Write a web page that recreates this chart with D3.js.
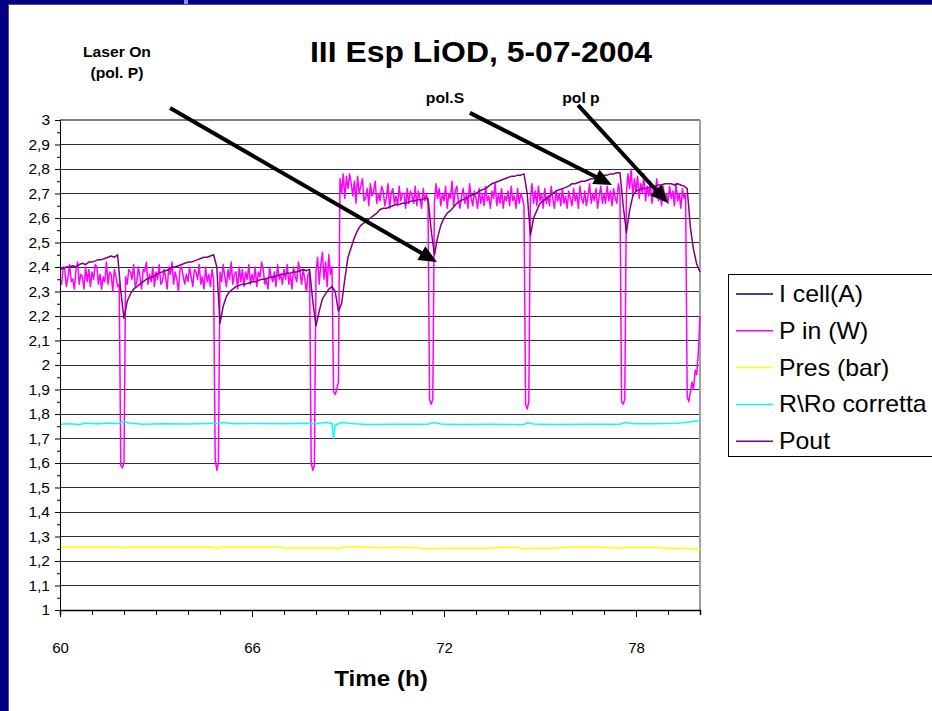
<!DOCTYPE html>
<html><head><meta charset="utf-8">
<script src="https://cdn.jsdelivr.net/npm/d3@7"></script>
<style>html,body{margin:0;padding:0;background:#000080;overflow:hidden} svg{display:block}</style>
</head><body>
<svg id="c" width="932" height="711"></svg>
<script>
// ---------------- DATA ----------------
const T_START = 60;
const STEP_PIN = 0.05;   // h between P in samples
const STEP_POUT = 0.1;   // h between Pout samples

const pIn = [
2.35,2.33,2.40,2.39,2.32,2.36,2.41,2.34,2.35,2.31,2.39,2.42,2.33,2.37,2.36,2.31,2.40,2.34,2.39,2.32,
2.38,2.35,2.41,2.40,2.33,2.37,2.31,2.36,2.34,2.42,2.33,2.38,2.37,2.30,2.39,2.36,2.32,2.33,1.59,1.58,
1.60,2.36,2.33,2.39,2.38,2.35,2.41,2.32,2.34,2.40,2.36,2.31,2.39,2.38,2.42,2.33,2.37,2.34,2.40,2.32,
2.38,2.35,2.41,2.33,2.34,2.39,2.36,2.31,2.40,2.37,2.42,2.33,2.38,2.35,2.30,2.39,2.40,2.36,2.33,2.37,
2.34,2.40,2.36,2.32,2.39,2.38,2.35,2.41,2.33,2.36,2.31,2.40,2.34,2.37,2.32,2.39,2.35,1.62,1.57,1.60,
2.38,2.34,2.41,2.36,2.32,2.39,2.35,2.42,2.33,2.37,2.38,2.31,2.40,2.34,2.39,2.32,2.38,2.35,2.41,2.33,
2.37,2.34,2.40,2.32,2.38,2.36,2.42,2.39,2.33,2.35,2.31,2.40,2.36,2.34,2.38,2.32,2.41,2.35,2.37,2.33,
2.39,2.35,2.41,2.33,2.37,2.31,2.40,2.36,2.34,2.42,2.38,2.33,2.39,2.35,2.30,2.37,2.38,1.60,1.57,1.59,
2.38,2.44,2.33,2.41,2.46,2.35,2.42,2.32,2.45,2.37,2.40,1.89,1.88,1.90,1.93,2.76,2.70,2.78,2.68,2.77,
2.72,2.78,2.74,2.69,2.75,2.66,2.77,2.70,2.73,2.76,2.67,2.68,2.72,2.65,2.74,2.69,2.71,2.75,2.66,2.70,
2.67,2.73,2.71,2.65,2.68,2.74,2.64,2.70,2.72,2.66,2.69,2.65,2.73,2.67,2.70,2.70,2.64,2.72,2.66,2.71,
2.69,2.66,2.73,2.65,2.71,2.68,2.64,2.72,2.67,2.70,2.66,1.86,1.84,1.86,2.66,2.74,2.68,2.72,2.65,2.70,
2.67,2.73,2.64,2.70,2.68,2.75,2.65,2.71,2.73,2.67,2.64,2.69,2.72,2.66,2.70,2.64,2.74,2.68,2.65,2.71,
2.68,2.64,2.72,2.66,2.70,2.65,2.73,2.67,2.69,2.64,2.71,2.68,2.74,2.65,2.70,2.66,2.72,2.64,2.69,2.67,
2.71,2.65,2.73,2.67,2.69,2.64,2.72,2.66,2.70,2.68,2.65,1.84,1.82,1.85,2.68,2.74,2.66,2.71,2.65,2.73,
2.67,2.70,2.64,2.72,2.66,2.69,2.65,2.73,2.68,2.64,2.71,2.67,2.70,2.65,2.72,2.66,2.69,2.64,2.71,2.68,
2.65,2.72,2.67,2.70,2.64,2.73,2.68,2.66,2.71,2.65,2.69,2.74,2.66,2.70,2.67,2.72,2.64,2.69,2.73,2.66,
2.70,2.66,2.73,2.67,2.71,2.65,2.72,2.68,2.66,2.74,2.70,1.85,1.84,1.86,2.70,2.78,2.72,2.80,2.69,2.76,
2.71,2.77,2.68,2.74,2.70,2.78,2.67,2.73,2.69,2.75,2.66,2.72,2.70,2.76,2.67,2.71,2.65,2.73,2.68,2.70,
2.66,2.73,2.68,2.71,2.65,2.74,2.67,2.70,2.64,2.72,2.68,2.70,1.87,1.85,1.89,1.93,1.90,1.98,1.96,2.06,
2.20
];

const pOut = [
2.39,2.395,2.40,2.40,2.405,2.40,2.41,2.415,2.41,2.42,
2.42,2.425,2.43,2.43,2.435,2.44,2.445,2.44,2.45,2.30,
2.19,2.26,2.29,2.31,2.32,2.33,2.34,2.35,2.355,2.36,
2.37,2.375,2.38,2.385,2.39,2.40,2.40,2.405,2.41,2.415,
2.42,2.42,2.425,2.43,2.435,2.44,2.44,2.445,2.45,2.40,
2.17,2.24,2.28,2.30,2.31,2.32,2.325,2.33,2.33,2.335,
2.34,2.34,2.345,2.35,2.35,2.355,2.36,2.36,2.365,2.37,
2.37,2.375,2.375,2.38,2.38,2.385,2.39,2.385,2.39,2.26,
2.16,2.22,2.27,2.29,2.31,2.32,2.30,2.22,2.25,2.35,
2.44,2.48,2.52,2.55,2.57,2.58,2.59,2.60,2.61,2.62,
2.635,2.64,2.64,2.645,2.65,2.655,2.655,2.66,2.66,2.665,
2.67,2.67,2.675,2.675,2.68,2.68,2.55,2.45,2.52,2.57,
2.60,2.62,2.63,2.645,2.66,2.67,2.675,2.68,2.69,2.695,
2.70,2.71,2.715,2.72,2.73,2.74,2.745,2.75,2.755,2.76,
2.765,2.77,2.77,2.775,2.775,2.78,2.70,2.53,2.60,2.63,
2.66,2.67,2.68,2.69,2.70,2.71,2.715,2.72,2.725,2.73,
2.74,2.74,2.745,2.75,2.75,2.755,2.76,2.76,2.765,2.77,
2.775,2.775,2.78,2.78,2.785,2.785,2.65,2.54,2.63,2.69,
2.71,2.715,2.72,2.72,2.725,2.73,2.73,2.735,2.735,2.74,
2.74,2.74,2.735,2.74,2.735,2.73,2.72,2.56,2.47,2.41,
2.38
];

// I cell(A): its values lie outside the plotted 1–3 range, so nothing shows
const iCell = [];

// [time h, value]
const presBar = [[60,1.257],[61.9,1.257],[62,1.252],[62.1,1.257],[64.8,1.257],[64.9,1.25],[65,1.257],
[66.9,1.257],[67,1.253],[68.6,1.253],[68.7,1.25],[68.8,1.257],[69.5,1.258],[70,1.254],[70.5,1.256],
[71.2,1.253],[71.5,1.25],[72,1.252],[73.5,1.252],[73.8,1.256],[74.2,1.255],[74.6,1.25],[74.7,1.252],
[75.5,1.252],[75.7,1.256],[76.5,1.258],[77,1.256],[77.5,1.252],[77.7,1.256],[78.5,1.256],[79,1.252],
[79.5,1.252],[79.7,1.248],[80,1.248]];

const rRo = [[60,1.758],[60.3,1.76],[60.6,1.757],[60.8,1.762],[61.2,1.76],[61.5,1.763],[61.8,1.76],
[62,1.768],[62.2,1.762],[62.6,1.758],[63.2,1.76],[64,1.759],[64.9,1.762],[65.1,1.765],[65.4,1.76],
[66,1.761],[67,1.76],[67.6,1.762],[68,1.76],[68.3,1.765],[68.5,1.762],[68.55,1.70],[68.6,1.755],
[68.8,1.765],[69.2,1.76],[69.6,1.757],[70.5,1.758],[71.5,1.758],[71.7,1.765],[71.9,1.759],[72.5,1.757],
[73.5,1.758],[74.5,1.757],[74.6,1.764],[74.8,1.759],[75.5,1.757],[76.5,1.758],[77.5,1.758],[77.7,1.765],
[77.9,1.76],[78.5,1.76],[79.3,1.762],[79.7,1.768],[80,1.772]];

const seriesNames  = ["I cell(A)","P in (W)","Pres (bar)","R\\Ro corretta","Pout"];
const seriesColors = ["#000080","#ff00ff","#ffff00","#00ffff","#800080"];

const xDomain = [60,80];
const yDomain = [1,3];
const xMinorTicks = [60,61,62,63,64,65,66,67,68,69,70,71,72,73,74,75,76,77,78,79,80];
const xLabelTicks = [60,66,72,78];
const yTicks = [1,1.1,1.2,1.3,1.4,1.5,1.6,1.7,1.8,1.9,2,2.1,2.2,2.3,2.4,2.5,2.6,2.7,2.8,2.9,3];
const yTickLabels = ["1","1,1","1,2","1,3","1,4","1,5","1,6","1,7","1,8","1,9","2","2,1","2,2","2,3","2,4","2,5","2,6","2,7","2,8","2,9","3"];
const yMinorTicks = [1.05,1.15,1.25,1.35,1.45,1.55,1.65,1.75,1.85,1.95,2.05,2.15,2.25,2.35,2.45,2.55,2.65,2.75,2.85,2.95];

const title = "III Esp LiOD, 5-07-2004";
const xTitle = "Time (h)";
// annotations: label lines, label anchor (t,v), arrow from (t,v) to (t,v)
const notes = [
  {lines:["Laser On","(pol. P)"], at:[61.78,3.257], from:[63.44,3.049], to:[71.78,2.42]},
  {lines:["pol.S"], at:[72.03,3.069], from:[72.81,3.029], to:[77.25,2.735]},
  {lines:["pol p"], at:[76.28,3.069], from:[76.19,3.061], to:[79.0,2.661]}
];

// ---------------- DRAW ----------------
const svg = d3.select("#c");
const FONT = "'Liberation Sans', Arial, Helvetica, sans-serif";
const x = d3.scaleLinear().domain(xDomain).range([60,700]);
const y = d3.scaleLinear().domain(yDomain).range([610,120]);

// slide frame
svg.append("rect").attr("width",932).attr("height",711).attr("fill","#000080");
svg.append("rect").attr("x",9).attr("y",5).attr("width",923).attr("height",706).attr("fill","#fff");
svg.append("line").attr("x1",8.5).attr("x2",8.5).attr("y1",4).attr("y2",711).attr("stroke","#555").attr("stroke-width",1);
svg.append("line").attr("x1",8).attr("x2",932).attr("y1",4.5).attr("y2",4.5).attr("stroke","#555").attr("stroke-width",1);
svg.append("rect").attr("x",184).attr("y",0).attr("width",4).attr("height",4).attr("fill","#7f8fff");

function stext(parent, px, py, str, size, weight, anchor, sx){
  return parent.append("text")
    .attr("transform",`translate(${px},${py}) scale(${sx},1)`)
    .attr("text-anchor",anchor)
    .style("font-family",FONT).style("font-size",size+"px").style("font-weight",weight)
    .attr("fill","#000").text(str);
}

// gridlines
const grid = svg.append("g").attr("shape-rendering","crispEdges");
grid.selectAll("line.g").data(yTicks.slice(1,-1)).join("line")
  .attr("x1",x(60)).attr("x2",x(80)).attr("y1",d=>y(d)).attr("y2",d=>y(d))
  .attr("stroke","#303030").attr("stroke-width",1);
grid.append("line").attr("x1",x(60)).attr("x2",x(80)).attr("y1",y(3)).attr("y2",y(3)).attr("stroke","#808080").attr("stroke-width",2);
grid.append("line").attr("x1",x(80)).attr("x2",x(80)).attr("y1",y(3)).attr("y2",y(1)).attr("stroke","#a0a0a0").attr("stroke-width",2);

// series
svg.append("clipPath").attr("id","pc").append("rect").attr("x",60).attr("y",119).attr("width",641).attr("height",492);
const plot = svg.append("g").attr("clip-path","url(#pc)");
const line = d3.line().x(d=>x(d[0])).y(d=>y(d[1]));
const series = [
  iCell,
  pIn.map((v,i)=>[T_START+i*STEP_PIN, v]),
  presBar,
  rRo,
  pOut.map((v,i)=>[T_START+i*STEP_POUT, v])
];
series.forEach((s,i)=>{
  plot.append("path").datum(s).attr("d",line).attr("fill","none")
    .attr("stroke",seriesColors[i]).attr("stroke-width",1.5).attr("stroke-linejoin","round");
});

// axes
const yAxis = d3.axisLeft(y).tickValues(yTicks).tickSize(5).tickPadding(5)
  .tickFormat((d,i)=>yTickLabels[i]);
const gy = svg.append("g").attr("transform","translate(60,0)").call(yAxis);
gy.select(".domain").attr("stroke","#000").attr("stroke-width",1);
gy.selectAll(".tick line").attr("stroke","#000");
gy.selectAll("text").style("font-family",FONT).style("font-size","15.5px").attr("fill","#000");
const gym = svg.append("g").attr("transform","translate(60,0)")
  .call(d3.axisLeft(y).tickValues(yMinorTicks).tickSize(3).tickFormat(""));
gym.select(".domain").remove();
gym.selectAll(".tick line").attr("stroke","#000");

const gx = svg.append("g").attr("transform","translate(0,610)")
  .call(d3.axisBottom(x).tickValues(xMinorTicks).tickSize(5).tickFormat(""));
gx.select(".domain").attr("stroke","#000").attr("stroke-width",1.5);
gx.selectAll(".tick line").attr("stroke","#000");
const gxl = svg.append("g").attr("transform","translate(0,610)")
  .call(d3.axisBottom(x).tickValues(xLabelTicks).tickSize(7).tickPadding(25).tickFormat(d3.format("d")));
gxl.select(".domain").remove();
gxl.selectAll(".tick line").attr("stroke","#000");
gxl.selectAll("text").style("font-family",FONT).style("font-size","15px").attr("fill","#000");

// titles
stext(svg, 481, 62, title, 29, "bold", "middle", 1.1);
stext(svg, 381, 686, xTitle, 22, "bold", "middle", 1.1);

// annotations
notes.forEach(n=>{
  n.lines.forEach((l,k)=>stext(svg, x(n.at[0]), y(n.at[1]) + k*21, l, 14.5, "bold", "middle", 1.08));
  const x1=x(n.from[0]), y1=y(n.from[1]), x2=x(n.to[0]), y2=y(n.to[1]);
  const dx=x2-x1, dy=y2-y1, len=Math.hypot(dx,dy), ux=dx/len, uy=dy/len;
  const L=18, Wd=8;
  const bx=x2-ux*L, by=y2-uy*L;
  svg.append("line").attr("x1",x1).attr("y1",y1).attr("x2",bx+ux*2).attr("y2",by+uy*2)
    .attr("stroke","#000").attr("stroke-width",4);
  svg.append("path").attr("d",`M${x2},${y2}L${bx-uy*Wd},${by+ux*Wd}L${bx+uy*Wd},${by-ux*Wd}Z`).attr("fill","#000");
});

// legend
const lg = svg.append("g");
lg.append("rect").attr("x",728.5).attr("y",274.5).attr("width",220).attr("height",182)
  .attr("fill","#fff").attr("stroke","#000").attr("stroke-width",1);
seriesNames.forEach((nm,i)=>{
  const cy = 294 + i*36.8;
  lg.append("line").attr("x1",736).attr("x2",773).attr("y1",cy).attr("y2",cy)
    .attr("stroke",seriesColors[i]).attr("stroke-width",1.5);
  stext(lg, 779, cy+8, nm, 23, "normal", "start", 1.08);
});
</script>
</body></html>
